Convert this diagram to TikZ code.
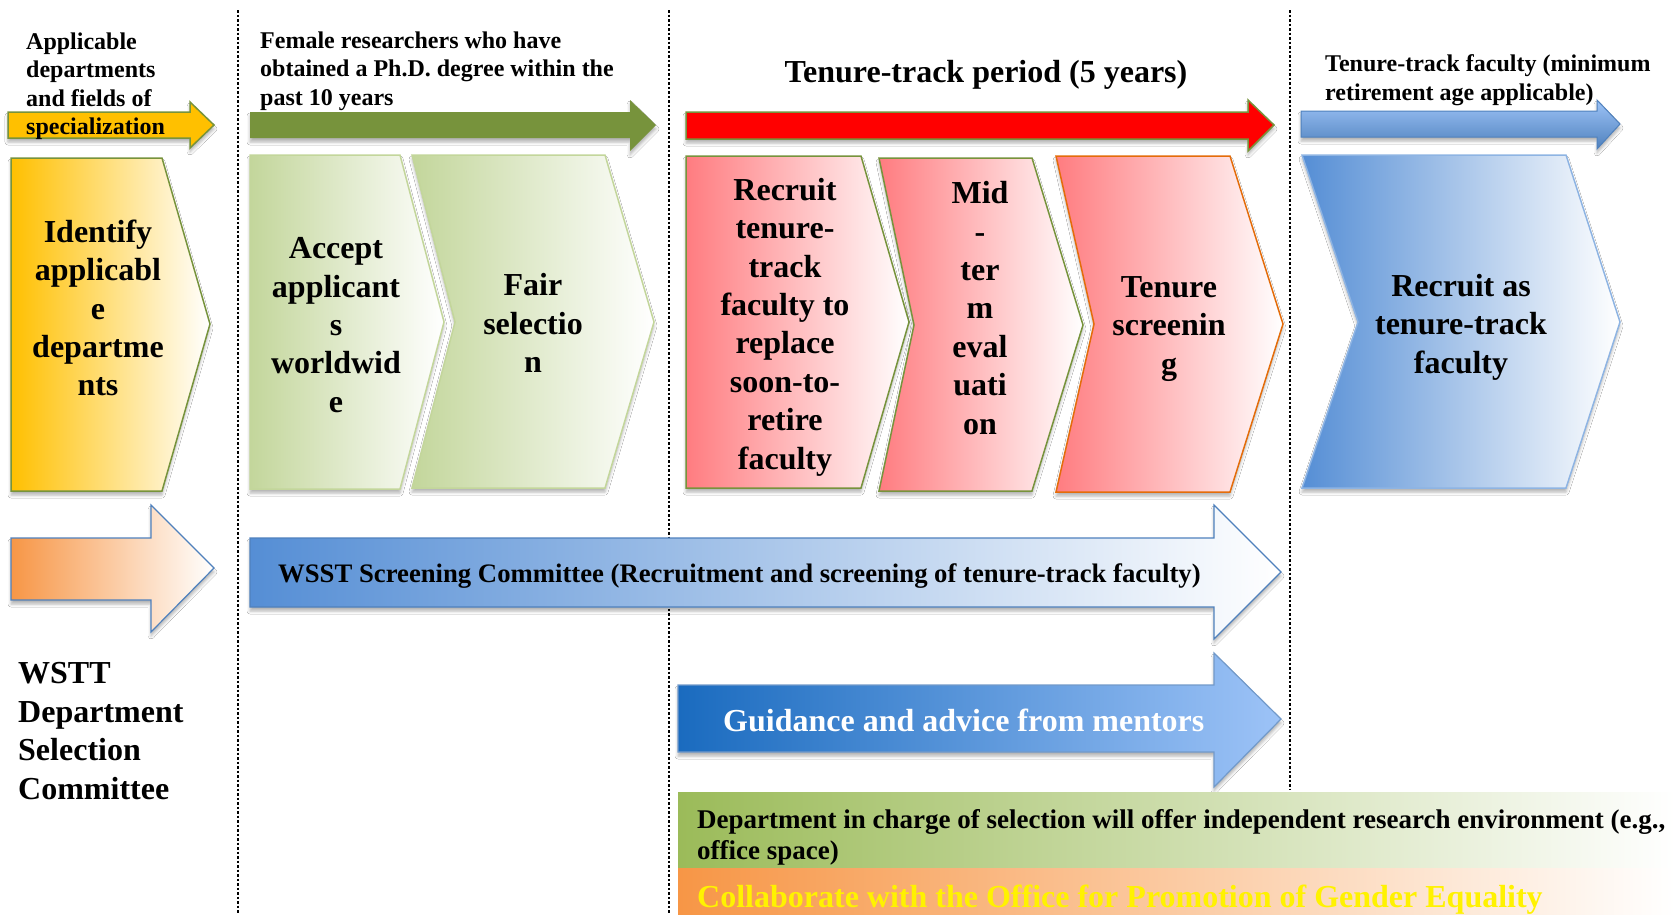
\documentclass[tikz,border=0pt]{standalone}
\usepackage{fontspec}
\setmainfont{Liberation Serif}
\usepackage{tikz}
\usetikzlibrary{shadows.blur}
\definecolor{olivegr}{HTML}{77933C}
\definecolor{goldor}{HTML}{FFC000}
\definecolor{palegr}{HTML}{C3D69B}
\definecolor{salmon}{HTML}{FF7C80}
\definecolor{burnt}{HTML}{E46C0A}
\definecolor{midblue}{HTML}{558ED5}
\definecolor{edgeblue}{HTML}{4F81BD}
\definecolor{skyblue}{HTML}{8EB4E3}
\definecolor{lightsky}{HTML}{9DC3F7}
\definecolor{deepblue}{HTML}{1A6BBF}
\definecolor{tanor}{HTML}{F79646}
\definecolor{leafgr}{HTML}{9BBB59}

\begin{document}
\begin{tikzpicture}[x=1pt,y=-1pt,
  shd/.style={blur shadow={shadow xshift=0pt,shadow yshift=-4pt,shadow blur radius=3pt,shadow opacity=30}},
  bigtxt/.style={font=\bfseries\fontsize{32}{38.4}\selectfont,align=center,inner sep=0pt},
  toptxt/.style={font=\bfseries\fontsize{24}{28.5}\selectfont,align=left,inner sep=0pt,anchor=west},
  bandtxt/.style={font=\bfseries\fontsize{27}{31}\selectfont,align=left,inner sep=0pt,anchor=west}]
\useasboundingbox (0,0) rectangle (1675,914);
\fill[white] (0,0) rectangle (1675,914);

% phase separators
\foreach \x/\y in {238/914,669/914,1290/790}{
\draw[line width=2.5pt,dash pattern=on 2.5pt off 2pt] (\x,10) -- (\x,\y);}

% top arrows
\draw[shd,fill=goldor,draw=olivegr,line width=1.5pt] (8,112) -- (190,112) -- (190,102) -- (214,125) -- (190,148) -- (190,138) -- (8,138) -- cycle;
\fill[shd,olivegr] (250,112) -- (630,112) -- (630,100) -- (656,125) -- (630,151) -- (630,138) -- (250,138) -- cycle;
\draw[shd,fill=red,draw=olivegr,line width=1.5pt] (686,112) -- (1248,112) -- (1248,100) -- (1274,125) -- (1248,151) -- (1248,139) -- (686,139) -- cycle;
\draw[shd,top color=lightsky,bottom color=edgeblue,draw=edgeblue,line width=1pt] (1301,111) -- (1597,111) -- (1597,100) -- (1620,124) -- (1597,149) -- (1597,137) -- (1301,137) -- cycle;

% chevrons
\draw[shd,left color=goldor,right color=white,draw=olivegr,line width=1.5pt] (11,158) -- (162,158) -- (210,324) -- (162,491) -- (11,491) -- cycle;
\draw[shd,left color=palegr,right color=white,draw=palegr,line width=1.5pt] (250,155) -- (400,155) -- (444,322) -- (400,489) -- (250,489) -- cycle;
\draw[shd,left color=palegr,right color=white,draw=palegr,line width=1.5pt] (412,155) -- (605,155) -- (654,322) -- (605,488) -- (412,488) -- (455,322) -- cycle;
\draw[shd,left color=salmon,right color=white,draw=olivegr,line width=1.5pt] (686,156) -- (861,156) -- (909,322) -- (861,488) -- (686,488) -- cycle;
\draw[shd,left color=salmon,right color=white,draw=olivegr,line width=1.5pt] (879,158) -- (1032,158) -- (1083,325) -- (1032,491) -- (879,491) -- (914,325) -- cycle;
\draw[shd,left color=salmon,right color=white,draw=burnt,line width=1.5pt] (1056,156) -- (1230,156) -- (1283,324) -- (1230,492) -- (1056,492) -- (1094,324) -- cycle;
\draw[shd,left color=midblue,right color=white,draw=skyblue,line width=1.5pt] (1302,155) -- (1566,155) -- (1620,322) -- (1566,488) -- (1302,488) -- (1358,322) -- cycle;

% committee arrows
\draw[shd,left color=tanor,right color=white,draw=edgeblue,line width=1.2pt] (11,538) -- (151,538) -- (151,505) -- (214,568) -- (151,632) -- (151,600) -- (11,600) -- cycle;
\draw[shd,left color=midblue,right color=white,draw=edgeblue,line width=1.2pt] (250,538) -- (1214,538) -- (1214,505) -- (1281,572) -- (1214,639) -- (1214,607) -- (250,607) -- cycle;
\draw[shd,left color=deepblue,right color=lightsky,draw=edgeblue!80,line width=1.2pt] (678,685) -- (1214,685) -- (1214,653) -- (1281,719) -- (1214,787) -- (1214,752) -- (678,752) -- cycle;

% support bands
\fill[left color=leafgr,right color=white] (678,792) rectangle (1675,868);
\fill[left color=tanor,right color=white] (678,868) rectangle (1675,930);

% labels
\node[toptxt] (fields) at (26,86) {Applicable\\departments\\and fields of\\specialization};
\node[toptxt] (female) at (260,71) {Female researchers who have\\obtained a Ph.D. degree within the\\past 10 years};
\node[font=\bfseries\fontsize{32}{38.4}\selectfont,inner sep=0pt] (period) at (986,75) {Tenure-track period (5 years)};
\node[toptxt] (minage) at (1325,80) {Tenure-track faculty (minimum\\retirement age applicable)};

\node[bigtxt] (identify) at (98,308) {Identify\\applicabl\\e\\departme\\nts};
\node[bigtxt] (accept) at (336,325) {Accept\\applicant\\s\\worldwid\\e};
\node[bigtxt] (fair) at (533,323) {Fair\\selectio\\n};
\node[bigtxt] (recruit) at (785,327) {Recruit\\tenure-\\track\\faculty to\\replace\\soon-to-\\retire\\faculty};
\node[bigtxt] (midterm) at (980,308) {Mid\\-\\ter\\m\\eval\\uati\\on};
\node[bigtxt] (screen) at (1169,329) {Tenure\\screenin\\g};
\node[bigtxt] (hire) at (1461,327) {Recruit as\\tenure-track\\faculty};

\node[font=\bfseries\fontsize{32}{38.5}\selectfont,align=left,inner sep=0pt,anchor=west] (wstt) at (18,731) {WSTT\\Department\\Selection\\Committee};
\node[font=\bfseries\fontsize{26.7}{31}\selectfont,inner sep=0pt,anchor=west] (wsst) at (278,576) {WSST Screening Committee (Recruitment and screening of tenure-track faculty)};
\node[font=\bfseries\fontsize{32}{38.4}\selectfont,text=white,inner sep=0pt,anchor=west] (mentor) at (723,720) {Guidance and advice from mentors};
\node[bandtxt] (dept) at (697,837) {Department in charge of selection will offer independent research environment (e.g.,\\office space)};
\node[font=\bfseries\fontsize{32}{38.4}\selectfont,text=yellow,inner sep=0pt,anchor=west] (gender) at (697,900) {Collaborate with the Office for Promotion of Gender Equality};
\end{tikzpicture}
\end{document}
